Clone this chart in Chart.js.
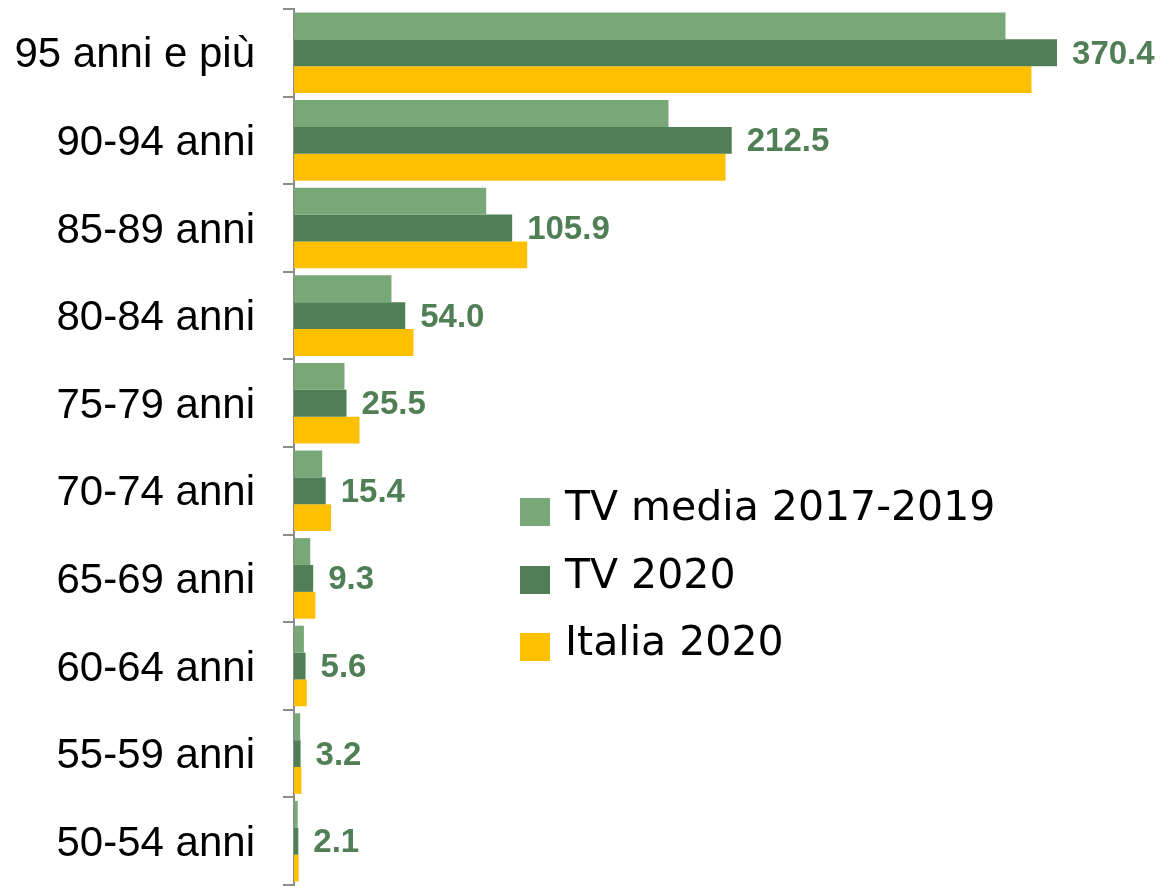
<!DOCTYPE html>
<html>
<head>
<meta charset="utf-8">
<script src="https://cdn.jsdelivr.net/npm/chart.js@4.4.0/dist/chart.umd.min.js"></script>
<style>
  html, body { margin: 0; padding: 0; background: #ffffff; }
  #wrap { width: 1165px; height: 887px; }
</style>
</head>
<body>
<div id="wrap"><canvas id="mortChart" width="1165" height="887"></canvas></div>
<script>
// Age classes, top to bottom
const categories = ['95 anni e più', '90-94 anni', '85-89 anni', '80-84 anni', '75-79 anni',
                    '70-74 anni', '65-69 anni', '60-64 anni', '55-59 anni', '50-54 anni'];

// Series (TV 2020 from its labels)
const tvMedia = [345.4, 181.8, 93.3, 47.3, 24.5, 13.7, 7.9, 4.8, 3.0, 1.8];
const tv2020 = [370.4, 212.5, 105.9, 54.0, 25.5, 15.4, 9.3, 5.6, 3.2, 2.1];
const italia2020 = [358.0, 209.5, 113.2, 58.0, 31.8, 18.0, 10.4, 6.2, 3.6, 2.3];

const seriesNames = ['TV media 2017-2019', 'TV 2020', 'Italia 2020'];
const seriesColors = ['#78A878', '#507E55', '#FFC000'];

//////////////////////////////////////////////
// Plugins: value labels on TV 2020 + legend
//////////////////////////////////////////////
const valueLabels = {
    id: 'valueLabels',
    afterDatasetsDraw(chart) {
        const ctx = chart.ctx;
        const meta = chart.getDatasetMeta(1);
        ctx.save();
        ctx.font = 'bold 33px "Liberation Sans", Arial, sans-serif';
        ctx.fillStyle = '#507E55';
        ctx.textAlign = 'left';
        ctx.textBaseline = 'middle';
        meta.data.forEach((bar, i) => {
            ctx.fillText(tv2020[i].toFixed(1), bar.x + 15, bar.y + 2);
        });
        ctx.restore();
    }
};

const boxLegend = {
    id: 'boxLegend',
    afterDraw(chart) {
        const ctx = chart.ctx;
        const rows = [520, 588, 655];
        ctx.save();
        ctx.font = '41px "DejaVu Sans", sans-serif';
        ctx.textAlign = 'left';
        ctx.textBaseline = 'alphabetic';
        seriesNames.forEach((name, i) => {
            ctx.fillStyle = seriesColors[i];
            ctx.fillRect(520, rows[i] - 22, 30, 28);
            ctx.fillStyle = '#000000';
            ctx.fillText(name, 565, rows[i]);
        });
        ctx.restore();
    }
};

//////////////////////////////////////////////
// Chart
//////////////////////////////////////////////
const ctx = document.getElementById('mortChart').getContext('2d');
const mortChart = new Chart(ctx, {
    type: 'bar',
    data: {
        labels: categories,
        datasets: [
            { label: seriesNames[0], data: tvMedia, backgroundColor: seriesColors[0] },
            { label: seriesNames[1], data: tv2020, backgroundColor: seriesColors[1] },
            { label: seriesNames[2], data: italia2020, backgroundColor: seriesColors[2] }
        ]
    },
    options: {
        indexAxis: 'y',
        responsive: false,
        animation: false,
        layout: { padding: { top: 9, right: 47, bottom: 2, left: 0 } },
        datasets: {
            bar: { categoryPercentage: 0.92, barPercentage: 1.0, borderWidth: 0 }
        },
        scales: {
            x: {
                display: false,
                min: 0,
                max: 400
            },
            y: {
                afterFit: (scale) => {
                    scale.width = 294;
                    scale.paddingTop = 0;
                    scale.paddingBottom = 0;
                },
                border: { display: true, color: '#8c8c8c', width: 2 },
                grid: {
                    drawOnChartArea: false,
                    drawTicks: true,
                    tickLength: 11,
                    color: '#8c8c8c',
                    lineWidth: 2
                },
                ticks: {
                    color: '#000000',
                    padding: 28,
                    labelOffset: 3,
                    font: { family: '"Liberation Sans", Arial, sans-serif', size: 42 }
                }
            }
        },
        plugins: {
            legend: { display: false },
            tooltip: { enabled: false }
        }
    },
    plugins: [valueLabels, boxLegend]
});
</script>
</body>
</html>
